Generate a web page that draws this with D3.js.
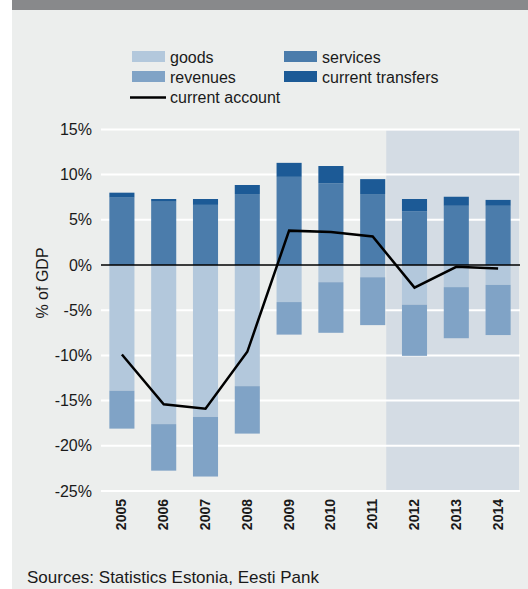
<!DOCTYPE html>
<html>
<head>
<meta charset="utf-8">
<script src="https://cdn.jsdelivr.net/npm/d3@7"></script>
<style>
  html, body { margin: 0; padding: 0; background: #ffffff; }
  svg { display: block; font-family: "Liberation Sans", Arial, Helvetica, sans-serif; }
</style>
</head>
<body>
<svg id="chart" width="528" height="589"></svg>
<script>
// Estonian current account components, % of GDP
const years = ["2005", "2006", "2007", "2008", "2009", "2010", "2011", "2012", "2013", "2014"];
const goods = [-13.9, -17.6, -16.8, -13.4, -4.1, -1.9, -1.35, -4.4, -2.45, -2.2];
const revenues = [-4.2, -5.15, -6.6, -5.25, -3.6, -5.6, -5.3, -5.65, -5.65, -5.55];
const services = [7.45, 7.0, 6.65, 7.85, 9.75, 9.05, 7.85, 5.95, 6.55, 6.55];
const transfers = [0.55, 0.3, 0.65, 1.0, 1.55, 1.9, 1.65, 1.35, 1.0, 0.65];
const currentAccount = [-9.9, -15.4, -15.9, -9.6, 3.8, 3.65, 3.15, -2.5, -0.2, -0.4];
const forecastYears = ["2012", "2013", "2014"];
const yTicks = [15, 10, 5, 0, -5, -10, -15, -20, -25];

const colors = {
  goods: "#b3c8dc",
  revenues: "#80a3c6",
  services: "#4b7cab",
  transfers: "#1c5a96"
};

const svg = d3.select("#chart");
const W = 528, H = 589;
const textColor = "#1a1a1a";

// panel background and header strip
svg.append("rect").attr("x", 12).attr("y", 0).attr("width", W - 12).attr("height", H).attr("fill", "#eceeed");
svg.append("rect").attr("x", 12).attr("y", 0).attr("width", W - 12).attr("height", 10).attr("fill", "#88898b");

const plot = { left: 101, right: 519, top: 129.4, bottom: 491 };

const x = d3.scaleBand().domain(years).range([plot.left, plot.right]).paddingInner(0.4).paddingOuter(0.2);
const y = d3.scaleLinear().domain([-25, 15]).range([plot.bottom, plot.top]);

// shaded forecast period
const shadeX0 = x(forecastYears[0]) - x.step() * 0.4 + 1;
svg.append("rect")
  .attr("x", shadeX0)
  .attr("y", y(15) + 1)
  .attr("width", plot.right - shadeX0)
  .attr("height", y(-25) - y(15) - 1)
  .attr("fill", "#d4dce4");

// gridlines
svg.append("g").selectAll("line").data(yTicks.filter(t => t !== 0)).join("line")
  .attr("x1", plot.left).attr("x2", plot.right + 1)
  .attr("y1", d => y(d)).attr("y2", d => y(d))
  .attr("stroke", "#ffffff").attr("stroke-width", 2);

// y axis labels
const yAxis = d3.axisLeft(y).tickValues(yTicks).tickSize(0).tickPadding(9).tickFormat(d => d + "%");
const yg = svg.append("g").attr("transform", `translate(${plot.left},0)`).call(yAxis);
yg.select(".domain").remove();
yg.selectAll("text").attr("font-size", 16).attr("fill", textColor)
  .attr("font-family", "'Liberation Sans', Arial, sans-serif");

svg.append("text")
  .attr("transform", "translate(48,283) rotate(-90)")
  .attr("text-anchor", "middle")
  .attr("font-size", 16).attr("fill", textColor)
  .text("% of GDP");

// stacked bars: positives upward, negatives downward
const bw = x.bandwidth();
years.forEach((yr, i) => {
  const segs = [
    { v0: 0, v1: services[i], c: colors.services },
    { v0: services[i], v1: services[i] + transfers[i], c: colors.transfers },
    { v0: 0, v1: goods[i], c: colors.goods },
    { v0: goods[i], v1: goods[i] + revenues[i], c: colors.revenues }
  ];
  svg.append("g").selectAll("rect").data(segs).join("rect")
    .attr("x", x(yr))
    .attr("width", bw)
    .attr("y", d => y(Math.max(d.v0, d.v1)))
    .attr("height", d => Math.abs(y(d.v0) - y(d.v1)))
    .attr("fill", d => d.c);
});

// zero line
svg.append("line")
  .attr("x1", plot.left).attr("x2", plot.right + 1)
  .attr("y1", y(0)).attr("y2", y(0))
  .attr("stroke", "#000").attr("stroke-width", 1.5);

// current account line
const line = d3.line().x((d, i) => x(years[i]) + bw / 2).y(d => y(d));
svg.append("path")
  .datum(currentAccount)
  .attr("d", line)
  .attr("fill", "none")
  .attr("stroke", "#000")
  .attr("stroke-width", 2.5)
  .attr("stroke-linejoin", "miter");

// x axis year labels (rotated)
svg.append("g").selectAll("text").data(years).join("text")
  .attr("transform", d => `translate(${x(d) + bw / 2 + 4.5},499) rotate(-90)`)
  .attr("text-anchor", "end")
  .attr("font-size", 14).attr("font-weight", "bold").attr("fill", textColor)
  .text(d => d);

// legend
const legendItems = [
  { label: "goods", type: "rect", c: colors.goods, x: 132, y: 51 },
  { label: "services", type: "rect", c: colors.services, x: 284, y: 51 },
  { label: "revenues", type: "rect", c: colors.revenues, x: 132, y: 71 },
  { label: "current transfers", type: "rect", c: colors.transfers, x: 284, y: 71 },
  { label: "current account", type: "line", c: "#000", x: 130, y: 91 }
];
const lg = svg.append("g");
legendItems.forEach(it => {
  if (it.type === "rect") {
    lg.append("rect").attr("x", it.x).attr("y", it.y).attr("width", 33).attr("height", 11).attr("fill", it.c);
  } else {
    lg.append("line").attr("x1", it.x).attr("x2", it.x + 36)
      .attr("y1", it.y + 6.5).attr("y2", it.y + 6.5)
      .attr("stroke", it.c).attr("stroke-width", 2.5);
  }
  lg.append("text")
    .attr("x", it.type === "rect" ? it.x + 38 : 170)
    .attr("y", it.y + 11.5)
    .attr("font-size", 16).attr("fill", textColor)
    .text(it.label);
});

// source note
svg.append("text")
  .attr("x", 27).attr("y", 583)
  .attr("font-size", 17).attr("fill", textColor)
  .text("Sources: Statistics Estonia, Eesti Pank");
</script>
</body>
</html>
